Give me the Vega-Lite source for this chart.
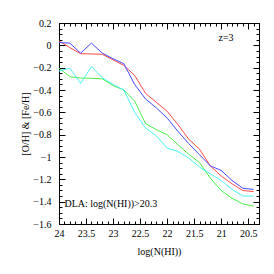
{
  "$schema": "https://vega.github.io/schema/vega-lite/v6.json",
  "width": 200,
  "height": 201,
  "autosize": "none",
  "padding": {"left": 59, "top": 23, "right": 15, "bottom": 50},
  "background": "white",
  "config": {
    "view": {"stroke": "black", "strokeWidth": 1},
    "axis": {"domainColor": "black", "tickColor": "black", "labelColor": "black", "titleColor": "black", "labelFont": "Liberation Serif", "titleFont": "Liberation Serif", "labelFontSize": 10, "titleFontSize": 10, "titleFontWeight": "normal", "grid": false, "labelFlush": false, "labelOverlap": false}
  },
  "datasets": {
    "main": [
      {"n": 24.0, "v": 0.04, "s": "red"}, {"n": 23.8, "v": -0.02, "s": "red"}, {"n": 23.6, "v": -0.075, "s": "red"}, {"n": 23.4, "v": -0.077, "s": "red"}, {"n": 23.2, "v": -0.08, "s": "red"}, {"n": 23.0, "v": -0.13, "s": "red"}, {"n": 22.8, "v": -0.18, "s": "red"}, {"n": 22.6, "v": -0.27, "s": "red"}, {"n": 22.4, "v": -0.43, "s": "red"}, {"n": 22.2, "v": -0.51, "s": "red"}, {"n": 22.0, "v": -0.59, "s": "red"}, {"n": 21.8, "v": -0.71, "s": "red"}, {"n": 21.6, "v": -0.84, "s": "red"}, {"n": 21.4, "v": -0.93, "s": "red"}, {"n": 21.2, "v": -1.08, "s": "red"}, {"n": 21.0, "v": -1.17, "s": "red"}, {"n": 20.8, "v": -1.24, "s": "red"}, {"n": 20.6, "v": -1.30, "s": "red"}, {"n": 20.4, "v": -1.31, "s": "red"},
      {"n": 24.0, "v": 0.025, "s": "blue"}, {"n": 23.8, "v": 0.02, "s": "blue"}, {"n": 23.6, "v": -0.07, "s": "blue"}, {"n": 23.4, "v": 0.02, "s": "blue"}, {"n": 23.2, "v": -0.07, "s": "blue"}, {"n": 23.0, "v": -0.12, "s": "blue"}, {"n": 22.8, "v": -0.165, "s": "blue"}, {"n": 22.6, "v": -0.35, "s": "blue"}, {"n": 22.4, "v": -0.48, "s": "blue"}, {"n": 22.2, "v": -0.56, "s": "blue"}, {"n": 22.0, "v": -0.65, "s": "blue"}, {"n": 21.8, "v": -0.77, "s": "blue"}, {"n": 21.6, "v": -0.88, "s": "blue"}, {"n": 21.4, "v": -0.98, "s": "blue"}, {"n": 21.2, "v": -1.08, "s": "blue"}, {"n": 21.0, "v": -1.12, "s": "blue"}, {"n": 20.8, "v": -1.21, "s": "blue"}, {"n": 20.6, "v": -1.28, "s": "blue"}, {"n": 20.4, "v": -1.29, "s": "blue"},
      {"n": 24.0, "v": -0.205, "s": "green"}, {"n": 23.8, "v": -0.28, "s": "green"}, {"n": 23.6, "v": -0.293, "s": "green"}, {"n": 23.4, "v": -0.295, "s": "green"}, {"n": 23.2, "v": -0.30, "s": "green"}, {"n": 23.0, "v": -0.36, "s": "green"}, {"n": 22.8, "v": -0.40, "s": "green"}, {"n": 22.6, "v": -0.50, "s": "green"}, {"n": 22.4, "v": -0.70, "s": "green"}, {"n": 22.2, "v": -0.755, "s": "green"}, {"n": 22.0, "v": -0.80, "s": "green"}, {"n": 21.8, "v": -0.89, "s": "green"}, {"n": 21.6, "v": -0.975, "s": "green"}, {"n": 21.4, "v": -1.05, "s": "green"}, {"n": 21.2, "v": -1.19, "s": "green"}, {"n": 21.0, "v": -1.30, "s": "green"}, {"n": 20.8, "v": -1.37, "s": "green"}, {"n": 20.6, "v": -1.42, "s": "green"}, {"n": 20.4, "v": -1.44, "s": "green"},
      {"n": 24.0, "v": -0.23, "s": "cyan"}, {"n": 23.8, "v": -0.205, "s": "cyan"}, {"n": 23.6, "v": -0.34, "s": "cyan"}, {"n": 23.4, "v": -0.19, "s": "cyan"}, {"n": 23.2, "v": -0.29, "s": "cyan"}, {"n": 23.0, "v": -0.35, "s": "cyan"}, {"n": 22.8, "v": -0.40, "s": "cyan"}, {"n": 22.6, "v": -0.60, "s": "cyan"}, {"n": 22.4, "v": -0.74, "s": "cyan"}, {"n": 22.2, "v": -0.81, "s": "cyan"}, {"n": 22.0, "v": -0.92, "s": "cyan"}, {"n": 21.8, "v": -0.95, "s": "cyan"}, {"n": 21.6, "v": -1.01, "s": "cyan"}, {"n": 21.4, "v": -1.09, "s": "cyan"}, {"n": 21.2, "v": -1.15, "s": "cyan"}, {"n": 21.0, "v": -1.21, "s": "cyan"}, {"n": 20.8, "v": -1.29, "s": "cyan"}, {"n": 20.6, "v": -1.35, "s": "cyan"}, {"n": 20.4, "v": -1.35, "s": "cyan"}
    ],
    "label1": [{"n": 20.91, "v": 0.07, "t": "z=3"}],
    "label2": [{"n": 23.9, "v": -1.42, "t": "DLA: log(N(HI))>20.3"}]
  },
  "resolve": {"axis": {"x": "independent", "y": "independent"}},
  "layer": [
    {
      "data": {"name": "main"},
      "mark": {"type": "line", "strokeWidth": 1, "clip": true},
      "encoding": {
        "x": {"field": "n", "type": "quantitative", "scale": {"domain": [20.3, 24], "reverse": true, "nice": false, "zero": false},
              "axis": {"orient": "bottom", "title": "log(N(HI))", "format": ".1~f", "values": [24, 23.5, 23, 22.5, 22, 21.5, 21, 20.5], "tickSize": -6, "labelPadding": 10, "titlePadding": 8}},
        "y": {"field": "v", "type": "quantitative", "scale": {"domain": [-1.6, 0.2], "nice": false, "zero": false},
              "axis": {"orient": "left", "title": "[O/H] & [Fe/H]", "format": ".1~f", "values": [0.2, 0, -0.2, -0.4, -0.6, -0.8, -1, -1.2, -1.4, -1.6], "tickSize": -6, "labelPadding": 14, "titleX": -34, "titleY": 100.5, "titleAngle": 270, "titleAlign": "center", "titleBaseline": "middle"}},
        "color": {"field": "s", "type": "nominal", "scale": {"domain": ["red", "blue", "green", "cyan"], "range": ["#ff4a4a", "#4a4aff", "#4aee4a", "#4af5f5"]}, "legend": null},
        "order": {"field": "n", "type": "quantitative"}
      }
    },
    {
      "data": {"name": "main"},
      "mark": {"type": "point", "opacity": 0},
      "encoding": {
        "x": {"field": "n", "type": "quantitative", "axis": {"orient": "bottom", "title": null, "labels": false, "domain": false, "tickSize": -3, "values": [20.3, 20.4, 20.5, 20.6, 20.7, 20.8, 20.9, 21, 21.1, 21.2, 21.3, 21.4, 21.5, 21.6, 21.7, 21.8, 21.9, 22, 22.1, 22.2, 22.3, 22.4, 22.5, 22.6, 22.7, 22.8, 22.9, 23, 23.1, 23.2, 23.3, 23.4, 23.5, 23.6, 23.7, 23.8, 23.9, 24]}},
        "y": {"field": "v", "type": "quantitative", "axis": {"orient": "left", "title": null, "labels": false, "domain": false, "tickSize": -3, "values": [0.2, 0.15, 0.1, 0.05, 0, -0.05, -0.1, -0.15, -0.2, -0.25, -0.3, -0.35, -0.4, -0.45, -0.5, -0.55, -0.6, -0.65, -0.7, -0.75, -0.8, -0.85, -0.9, -0.95, -1, -1.05, -1.1, -1.15, -1.2, -1.25, -1.3, -1.35, -1.4, -1.45, -1.5, -1.55, -1.6]}}
      }
    },
    {
      "data": {"name": "main"},
      "mark": {"type": "point", "opacity": 0},
      "encoding": {
        "x": {"field": "n", "type": "quantitative", "axis": {"orient": "top", "title": null, "labels": false, "tickSize": -6, "values": [24, 23.5, 23, 22.5, 22, 21.5, 21, 20.5]}},
        "y": {"field": "v", "type": "quantitative", "axis": {"orient": "right", "title": null, "labels": false, "tickSize": -6, "values": [0.2, 0, -0.2, -0.4, -0.6, -0.8, -1, -1.2, -1.4, -1.6]}}
      }
    },
    {
      "data": {"name": "main"},
      "mark": {"type": "point", "opacity": 0},
      "encoding": {
        "x": {"field": "n", "type": "quantitative", "axis": {"orient": "top", "title": null, "labels": false, "domain": false, "tickSize": -3, "values": [20.3, 20.4, 20.5, 20.6, 20.7, 20.8, 20.9, 21, 21.1, 21.2, 21.3, 21.4, 21.5, 21.6, 21.7, 21.8, 21.9, 22, 22.1, 22.2, 22.3, 22.4, 22.5, 22.6, 22.7, 22.8, 22.9, 23, 23.1, 23.2, 23.3, 23.4, 23.5, 23.6, 23.7, 23.8, 23.9, 24]}},
        "y": {"field": "v", "type": "quantitative", "axis": {"orient": "right", "title": null, "labels": false, "domain": false, "tickSize": -3, "values": [0.2, 0.15, 0.1, 0.05, 0, -0.05, -0.1, -0.15, -0.2, -0.25, -0.3, -0.35, -0.4, -0.45, -0.5, -0.55, -0.6, -0.65, -0.7, -0.75, -0.8, -0.85, -0.9, -0.95, -1, -1.05, -1.1, -1.15, -1.2, -1.25, -1.3, -1.35, -1.4, -1.45, -1.5, -1.55, -1.6]}}
      }
    },
    {
      "data": {"name": "label1"},
      "mark": {"type": "text", "font": "Liberation Serif", "fontSize": 10, "baseline": "middle", "align": "center", "color": "black"},
      "encoding": {
        "x": {"field": "n", "type": "quantitative", "axis": null},
        "y": {"field": "v", "type": "quantitative", "axis": null},
        "text": {"field": "t"}
      }
    },
    {
      "data": {"name": "label2"},
      "mark": {"type": "text", "font": "Liberation Serif", "fontSize": 10, "baseline": "middle", "align": "left", "color": "black"},
      "encoding": {
        "x": {"field": "n", "type": "quantitative", "axis": null},
        "y": {"field": "v", "type": "quantitative", "axis": null},
        "text": {"field": "t"}
      }
    }
  ]
}
